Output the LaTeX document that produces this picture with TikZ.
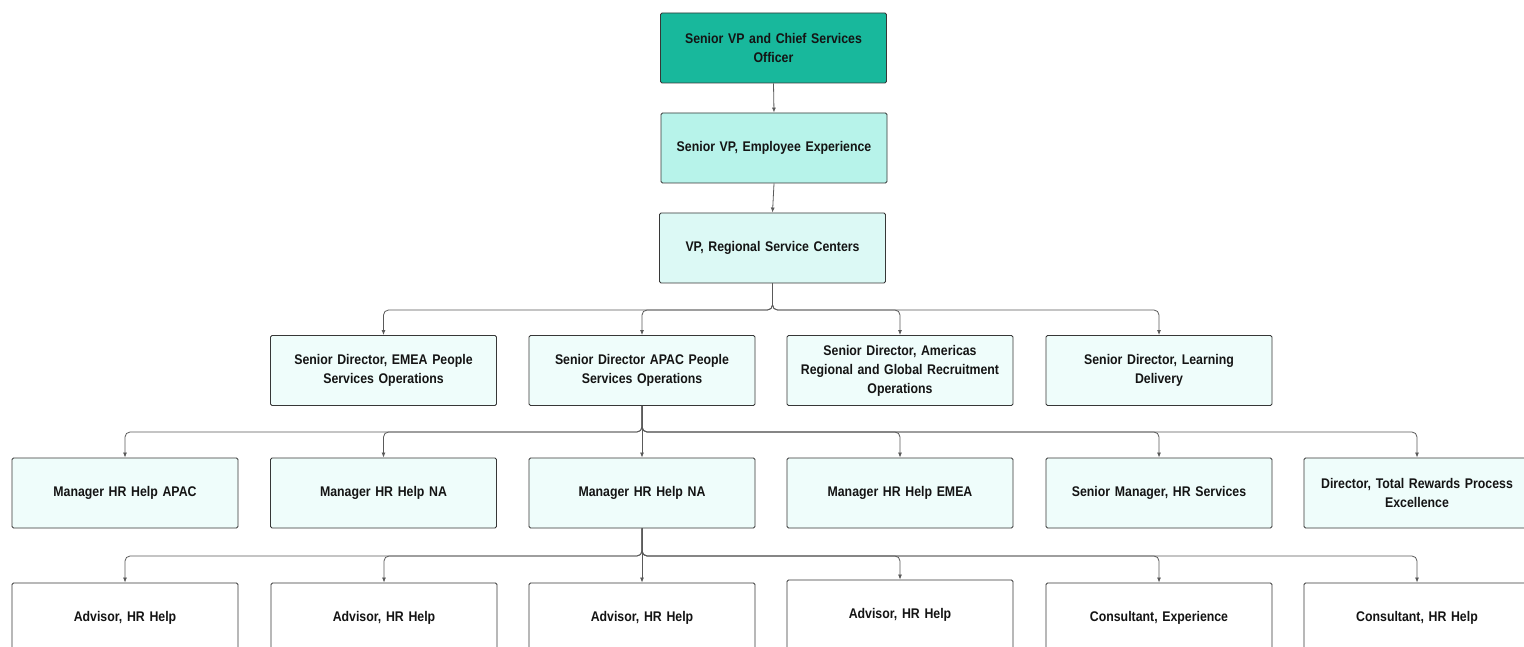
\documentclass[tikz,border=0pt]{standalone}
\usepackage{fontspec}
\setmainfont{Liberation Sans}[FakeStretch=0.88]
\usetikzlibrary{arrows.meta}
\definecolor{topfill}{RGB}{24,184,156}
\definecolor{vpfill}{RGB}{183,243,234}
\definecolor{rfill}{RGB}{220,249,245}
\definecolor{lfill}{RGB}{239,253,251}
\definecolor{linec}{RGB}{90,90,90}
\definecolor{borderc}{RGB}{55,55,55}
\definecolor{txt}{RGB}{20,20,20}
\tikzset{
  box/.style={draw=borderc, line width=0.9pt, rounded corners=1.5pt, minimum width=226pt, minimum height=70pt,
    align=center, text width=216pt, font=\bfseries\fontsize{14}{19}\selectfont, text=txt, inner sep=0pt},
  conn/.style={draw=linec, line width=0.8pt, rounded corners=5pt, -{Latex[length=5pt,width=4pt]}},
}
\begin{document}
\begin{tikzpicture}[x=1pt,y=-1pt]
\useasboundingbox (0,0) rectangle (1524,647);
\fill[white] (0,0) rectangle (1524,647);
% level 1-3
\node[box, fill=topfill] (ceo) at (773.5,48) {Senior VP and Chief Services\\Officer};
\node[box, fill=vpfill] (svp) at (774,148) {Senior VP, Employee Experience};
\node[box, fill=rfill] (vp) at (772.5,248) {VP, Regional Service Centers};
% level 4
\node[box, fill=lfill] (emea) at (383.5,370.5) {Senior Director, EMEA People\\Services Operations};
\node[box, fill=lfill] (apac) at (642,370.5) {Senior Director APAC People\\Services Operations};
\node[box, fill=lfill] (amer) at (900,370.5) {Senior Director, Americas\\Regional and Global Recruitment\\Operations};
\node[box, fill=lfill] (learn) at (1159,370.5) {Senior Director, Learning\\Delivery};
% level 5
\node[box, fill=lfill] (m1) at (125,493) {Manager HR Help APAC};
\node[box, fill=lfill] (m2) at (383.5,493) {Manager HR Help NA};
\node[box, fill=lfill] (m3) at (642,493) {Manager HR Help NA};
\node[box, fill=lfill] (m4) at (900,493) {Manager HR Help EMEA};
\node[box, fill=lfill] (m5) at (1159,493) {Senior Manager, HR Services};
\node[box, fill=lfill] (m6) at (1417,493) {Director, Total Rewards Process\\Excellence};
% level 6
\node[box, fill=white] (a1) at (125,618) {Advisor, HR Help};
\node[box, fill=white] (a2) at (384,618) {Advisor, HR Help};
\node[box, fill=white] (a3) at (642,618) {Advisor, HR Help};
\node[box, fill=white] (a4) at (900,615) {Advisor, HR Help};
\node[box, fill=white] (a5) at (1159,618) {Consultant, Experience};
\node[box, fill=white] (a6) at (1417,618) {Consultant, HR Help};
% bus coordinates
\coordinate (b3) at (0,310);
\coordinate (b4) at (0,432);
\coordinate (b5) at (0,556);
% connectors
\draw[conn] (ceo.south) -- (svp.north);
\draw[conn] (svp.south) -- (vp.north);
\foreach \c in {emea,apac,amer,learn}
  \draw[conn] (vp.south) |- (\c.north |- b3) -- (\c.north);
\foreach \c in {m1,m2,m4,m5,m6}
  \draw[conn] (apac.south) |- (\c.north |- b4) -- (\c.north);
\draw[conn] (apac.south) -- (m3.north);
\foreach \c in {a1,a2,a4,a5,a6}
  \draw[conn] (m3.south) |- (\c.north |- b5) -- (\c.north);
\draw[conn] (m3.south) -- (a3.north);
\end{tikzpicture}
\end{document}
